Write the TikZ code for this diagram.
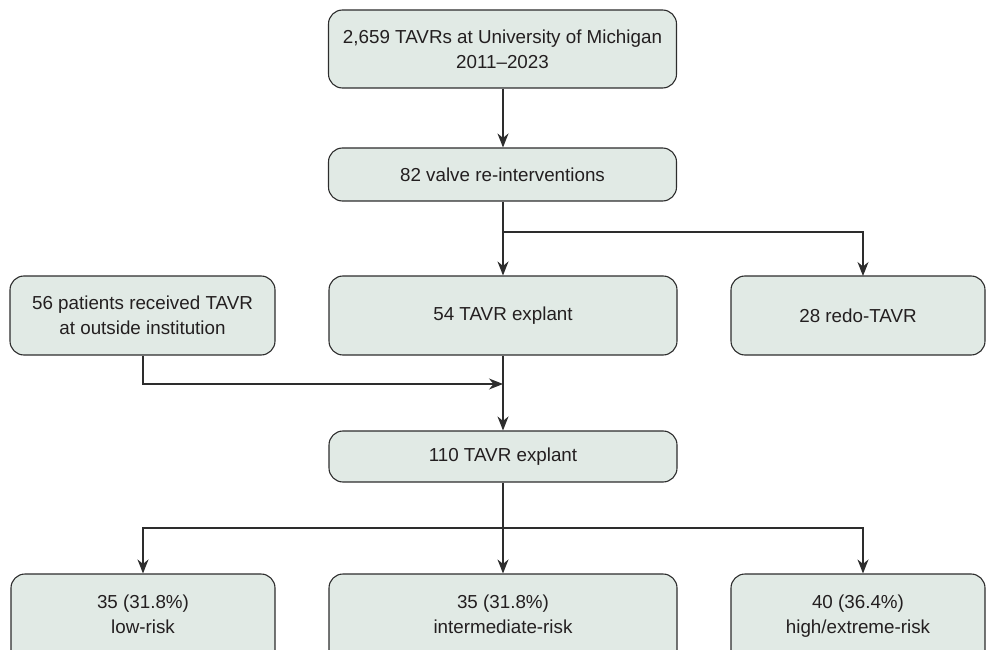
\documentclass[tikz,border=0pt]{standalone}
\usepackage{fontspec}
\setmainfont{Liberation Sans}
\usetikzlibrary{arrows.meta,positioning}
\definecolor{boxfill}{RGB}{225,234,229}
\definecolor{boxline}{RGB}{45,45,45}
\definecolor{txt}{RGB}{35,31,32}
\begin{document}
\begin{tikzpicture}[x=1pt,y=-1pt,
  flowbox/.style={draw=boxline, fill=boxfill, line width=1.1pt, rounded corners=14pt,
    align=center, text=txt, inner sep=0pt,
    font=\fontsize{18.8}{25}\selectfont},
  lbl/.style={align=center, text=txt, inner sep=0pt, font=\fontsize{18.8}{25}\selectfont},
  arr/.style={draw=boxline, line width=1.1pt, -{Stealth[length=14pt,width=11pt,inset=4.5pt]}},
  ln/.style={draw=boxline, line width=1.1pt}]
\useasboundingbox (0,0) rectangle (986,650);
\clip (0,0) rectangle (986,650);
\node[flowbox, minimum width=348pt, minimum height=78pt] (top) at (502.5,49) {2,659 TAVRs at University of Michigan\\2011--2023};
\node[flowbox, minimum width=348pt, minimum height=53pt] (rei) at (502.5,174.5) {82 valve re-interventions};
\node[flowbox, minimum width=265pt, minimum height=79pt] (out) at (142.5,315.5) {56 patients received TAVR\\at outside institution};
\node[flowbox, minimum width=348pt, minimum height=79pt] (exp) at (503,315.5) {54 TAVR explant};
\node[flowbox, minimum width=254pt, minimum height=79pt] (redo) at (858,315.5) {28 redo-TAVR};
\node[flowbox, minimum width=348pt, minimum height=51pt] (tot) at (503,456.5) {110 TAVR explant};
\node[flowbox, minimum width=264pt, minimum height=92pt] (low) at (143,620) {};
\node[flowbox, minimum width=348pt, minimum height=92pt] (mid) at (503,620) {};
\node[flowbox, minimum width=254pt, minimum height=92pt] (high) at (858,620) {};
\node[lbl] (lowt) at (143,618) {35 (31.8\%)\\low-risk\strut};
\node[lbl] (midt) at (503,618) {35 (31.8\%)\\intermediate-risk\strut};
\node[lbl] (hight) at (858,618) {40 (36.4\%)\\high/extreme-risk\strut};
\coordinate (b1) at (503,232);
\coordinate (b2) at (503,384);
\coordinate (b3) at (503,528);
\draw[arr] (top.south -| b1) -- (rei.north -| b1);
\draw[ln] (rei.south -| b1) -- (b1);
\draw[arr] (b1) -- (exp.north -| b1);
\draw[arr] (b1) -| (863,276) coordinate (redotop);
\draw[ln] (exp.south -| b2) -- (b2);
\draw[arr] (b2) -- (tot.north -| b2);
\draw[arr] (out.south -| 143,0) |- (b2);
\draw[ln] (tot.south -| b3) -- (b3);
\draw[arr] (b3) -- (mid.north -| b3);
\draw[arr] (b3) -| (low.north -| 143,0);
\draw[arr] (b3) -| (high.north -| 863,0);
\end{tikzpicture}
\end{document}
